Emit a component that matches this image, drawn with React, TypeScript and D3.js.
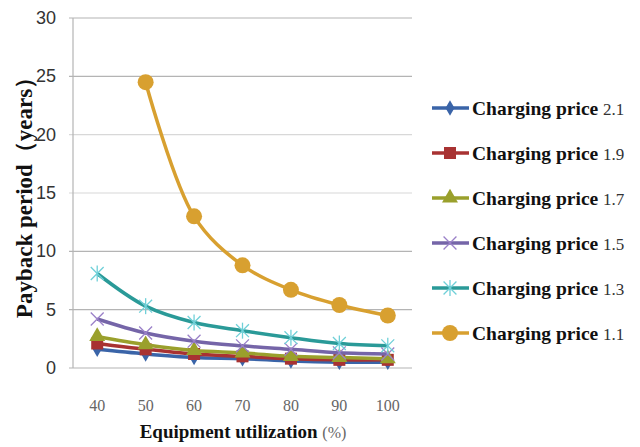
import React, { useRef, useEffect } from "react";
import * as d3 from "d3";

const utilization = ["40", "50", "60", "70", "80", "90", "100"];
const yTicks = [0, 5, 10, 15, 20, 25, 30];

const seriesNames = ["2.1", "1.9", "1.7", "1.5", "1.3", "1.1"];
const price21 = [1.6, 1.2, 0.9, 0.8, 0.6, 0.5, 0.5];
const price19 = [2.1, 1.6, 1.2, 1.0, 0.8, 0.7, 0.7];
const price17 = [2.7, 2.0, 1.5, 1.3, 1.0, 0.9, 0.8];
const price15 = [4.2, 3.0, 2.3, 1.9, 1.6, 1.3, 1.2];
const price13 = [8.1, 5.3, 3.9, 3.2, 2.6, 2.1, 1.9];
const price11 = [null, 24.5, 13.0, 8.8, 6.7, 5.4, 4.5];

const lineColors = ["#3a64a8", "#a83232", "#9aa02c", "#7565a8", "#2a9a98", "#d8a030"];
const markerColors = ["#3a64a8", "#a83232", "#9aa02c", "#9a80c8", "#70d0d8", "#d8a030"];
const markerKinds = ["diamond", "square", "triangle", "cross", "asterisk", "circle"];

const App: React.FC = () => {
  const svgRef = useRef<SVGSVGElement>(null);

  useEffect(() => {
    if (!svgRef.current) return;
    const svg = d3.select(svgRef.current);
    svg.selectAll("*").remove();

    const left = 73, right = 412, top = 18, bottom = 368;
    const x = d3.scaleBand().domain(utilization).range([left, right]);
    const y = d3.scaleLinear().domain([0, 30]).range([bottom, top]);
    const cx = (c: string) => (x(c) as number) + x.bandwidth() / 2;

    // gridlines
    svg.append("g")
      .selectAll("line")
      .data(yTicks)
      .enter()
      .append("line")
      .attr("x1", left - 4)
      .attr("x2", right)
      .attr("y1", (d) => y(d))
      .attr("y2", (d) => y(d))
      .attr("stroke", (d) => (d === 15 || d === 20 ? "#d8d8d8" : "#b4b4b4"))
      .attr("stroke-width", 1.2);

    svg.append("line")
      .attr("x1", left).attr("x2", left)
      .attr("y1", top).attr("y2", bottom)
      .attr("stroke", "#b4b4b4").attr("stroke-width", 1.2);

    // y tick labels
    svg.append("g")
      .selectAll("text")
      .data(yTicks)
      .enter()
      .append("text")
      .attr("x", left - 17)
      .attr("y", (d) => y(d) + 6)
      .attr("text-anchor", "end")
      .attr("font-family", "Liberation Sans Narrow, Liberation Sans, sans-serif")
      .attr("font-size", 18)
      .attr("fill", "#333")
      .text((d) => d);

    // x tick labels
    svg.append("g")
      .selectAll("text")
      .data(utilization)
      .enter()
      .append("text")
      .attr("x", (d) => cx(d))
      .attr("y", 411)
      .attr("text-anchor", "middle")
      .attr("font-family", "Liberation Serif, serif")
      .attr("font-size", 16)
      .attr("fill", "#666")
      .text((d) => d);

    // axis titles
    const xt = svg.append("text")
      .attr("x", 243)
      .attr("y", 438)
      .attr("text-anchor", "middle")
      .attr("font-family", "Liberation Serif, serif")
      .attr("font-size", 19)
      .attr("font-weight", "bold")
      .attr("fill", "#111");
    xt.append("tspan").text("Equipment utilization ");
    xt.append("tspan").attr("font-weight", "normal").attr("fill", "#666").attr("font-size", 16).text("(%)");

    svg.append("text")
      .attr("transform", "translate(32,192) rotate(-90)")
      .attr("text-anchor", "middle")
      .attr("font-family", "Liberation Serif, serif")
      .attr("font-size", 23)
      .attr("font-weight", "bold")
      .attr("fill", "#111")
      .text("Payback period（years）");

    const allSeries = [price21, price19, price17, price15, price13, price11];

    const drawMarker = (g: d3.Selection<SVGGElement, unknown, null, undefined>, kind: string, color: string, px: number, py: number) => {
      if (kind === "diamond") {
        g.append("path").attr("d", d3.symbol(d3.symbolDiamond, 70)()).attr("transform", `translate(${px},${py})`).attr("fill", color);
      } else if (kind === "square") {
        g.append("rect").attr("x", px - 6).attr("y", py - 6).attr("width", 12).attr("height", 12).attr("fill", color);
      } else if (kind === "triangle") {
        g.append("path").attr("d", d3.symbol(d3.symbolTriangle, 110)()).attr("transform", `translate(${px},${py})`).attr("fill", color);
      } else if (kind === "cross") {
        g.append("path").attr("d", d3.symbol(d3.symbolX, 110)()).attr("transform", `translate(${px},${py})`).attr("fill", "none").attr("stroke", color).attr("stroke-width", 1.3);
      } else if (kind === "asterisk") {
        g.append("path").attr("d", d3.symbol(d3.symbolX, 110)()).attr("transform", `translate(${px},${py})`).attr("fill", "none").attr("stroke", color).attr("stroke-width", 1.3);
        g.append("line").attr("x1", px).attr("x2", px).attr("y1", py - 8).attr("y2", py + 8).attr("stroke", color).attr("stroke-width", 1.3);
      } else {
        g.append("circle").attr("cx", px).attr("cy", py).attr("r", 8).attr("fill", color);
      }
    };

    allSeries.forEach((vals, i) => {
      const pts = vals
        .map((v, j) => ({ c: utilization[j], v }))
        .filter((p) => p.v !== null) as { c: string; v: number }[];
      const line = d3.line<{ c: string; v: number }>()
        .x((d) => cx(d.c))
        .y((d) => y(d.v))
        .curve(d3.curveCatmullRom.alpha(0.5));
      const g = svg.append("g");
      g.append("path")
        .datum(pts)
        .attr("fill", "none")
        .attr("stroke", lineColors[i])
        .attr("stroke-width", 3.5)
        .attr("d", line);
      pts.forEach((p) => drawMarker(g, markerKinds[i], markerColors[i], cx(p.c), y(p.v)));
    });

    // legend
    const legend = svg.append("g");
    seriesNames.forEach((name, i) => {
      const ly = 108 + i * 45;
      const g = legend.append("g");
      g.append("line")
        .attr("x1", 432).attr("x2", 469)
        .attr("y1", ly).attr("y2", ly)
        .attr("stroke", lineColors[i]).attr("stroke-width", 3.5);
      drawMarker(g, markerKinds[i], markerColors[i], 450, ly);
      const t = g.append("text")
        .attr("x", 472)
        .attr("y", ly + 7)
        .attr("font-family", "Liberation Serif, serif")
        .attr("fill", "#111");
      t.append("tspan").attr("font-weight", "bold").attr("font-size", 19.5).text("Charging price ");
      t.append("tspan").attr("font-size", 17).attr("fill", "#333").text(name);
    });
  }, []);

  return (
    <div style={{ position: "absolute", left: 0, top: 0 }}>
      <svg ref={svgRef} width={640} height={447} style={{ display: "block", background: "#fff" }} />
    </div>
  );
};

export default App;
